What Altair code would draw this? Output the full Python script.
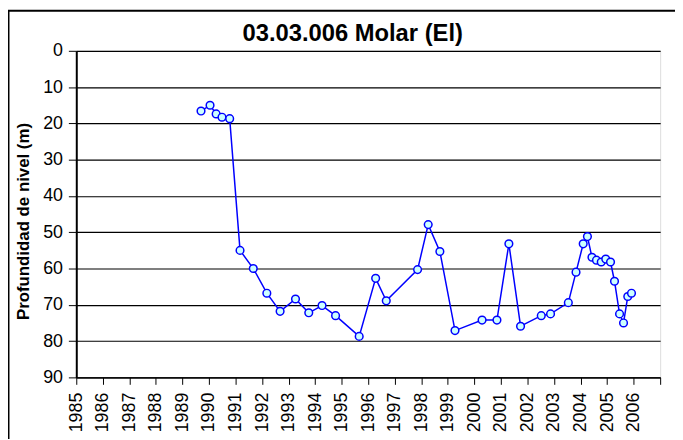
import altair as alt
import pandas as pd

titulo = "03.03.006 Molar (El)"
eje_y = "Profundidad de nivel (m)"

fecha = [1989.70, 1990.04, 1990.27, 1990.49, 1990.78, 1991.17, 1991.67, 1992.18,
         1992.68, 1993.26, 1993.76, 1994.26, 1994.77, 1995.66, 1996.28, 1996.68,
         1997.86, 1998.26, 1998.70, 1999.27, 2000.29, 2000.85, 2001.30, 2001.74,
         2002.52, 2002.87, 2003.54, 2003.83, 2004.10, 2004.26, 2004.43, 2004.60,
         2004.78, 2004.95, 2005.13, 2005.28, 2005.47, 2005.62, 2005.78, 2005.92]
profundidad = [16.6, 15.0, 17.4, 18.3, 18.7, 55.0, 60.0, 66.8,
               71.8, 68.4, 72.2, 70.2, 73.0, 78.7, 62.7, 68.9,
               60.3, 47.9, 55.3, 77.1, 74.2, 74.2, 53.2, 75.9,
               73.0, 72.5, 69.4, 61.0, 53.2, 51.2, 56.9, 57.7,
               58.2, 57.4, 58.2, 63.5, 72.5, 75.0, 67.7, 66.8]
anios = list(range(1985, 2008))
ticks_y = list(range(0, 100, 10))

df = pd.DataFrame({"fecha": fecha, "profundidad": profundidad})

W, H = 590, 330
FONT = "Liberation Sans"

x = alt.X("fecha:Q",
          scale=alt.Scale(domain=[1985, 2007], nice=False, zero=False),
          axis=alt.Axis(values=anios, labelExpr="datum.value == 2007 ? '' : datum.value",
                        labelAngle=-90, labelFontSize=18, labelFont=FONT, labelColor="black",
                        tickSize=7, tickColor="black", labelPadding=8, grid=False,
                        domainColor="black", domainWidth=1.5, title=None))
y = alt.Y("profundidad:Q",
          scale=alt.Scale(domain=[0, 90], reverse=True, nice=False, zero=False),
          axis=alt.Axis(values=ticks_y, labelFontSize=18, labelFont=FONT, labelColor="black",
                        tickSize=8, tickColor="black", labelPadding=6,
                        grid=True, gridColor="black", gridWidth=1.2,
                        domainColor="black", domainWidth=2,
                        title=eje_y, titleFont=FONT, titleFontSize=17, titleFontWeight="bold",
                        titleColor="black", titleX=-53, titleY=172, titleBaseline="middle"))

base = alt.Chart(df)
linea = base.mark_line(color="#0000ff", strokeWidth=1.5).encode(x=x, y=y)
puntos = base.mark_point(filled=True, fill="#ccffff", stroke="#0000ff", strokeWidth=1.5,
                         size=60, opacity=1).encode(x=x, y=y)

uno = pd.DataFrame({"t": [titulo]})
marco_izq = alt.Chart(uno).mark_rule(color="black", strokeWidth=2).encode(
    x=alt.value(-68.5), y=alt.value(-40.5), y2=alt.value(H + 70))
marco_sup = alt.Chart(uno).mark_rule(color="black", strokeWidth=2).encode(
    x=alt.value(-69), x2=alt.value(W + 30), y=alt.value(-40.5))
texto_titulo = alt.Chart(uno).mark_text(font=FONT, fontSize=24, fontWeight="bold",
                                        color="black", align="center",
                                        baseline="alphabetic").encode(
    text="t:N", x=alt.value(279.3), y=alt.value(-10))

chart = alt.layer(linea, puntos, marco_izq, marco_sup, texto_titulo).properties(
    width=W, height=H,
    autosize=alt.AutoSizeParams(type="none"),
    padding={"left": 69, "top": 41, "right": 15, "bottom": 60},
).configure_view(stroke="black", strokeWidth=1.5).configure(background="white")

chart.save("out.html", embed_options={"renderer": "svg", "actions": False})
